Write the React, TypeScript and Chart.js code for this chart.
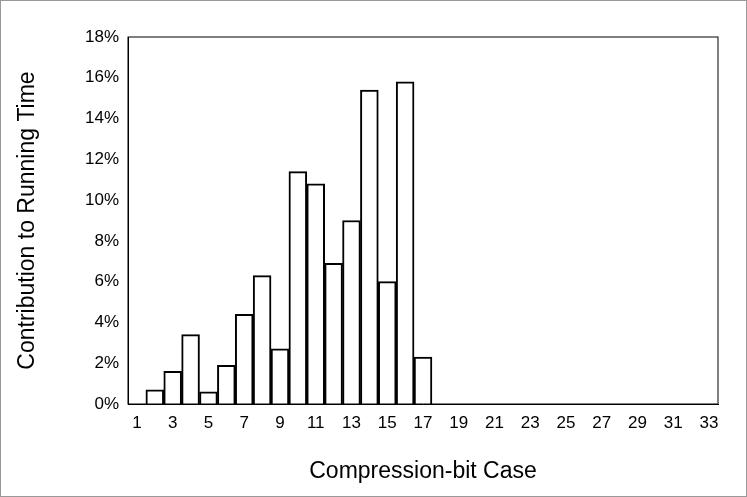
import React, { useEffect, useRef } from "react";
import { Chart, registerables } from "chart.js";
Chart.register(...registerables);

const categories = Array.from({ length: 33 }, (_, i) => String(i + 1));
const values = [0, 0.7, 1.6, 3.4, 0.6, 1.9, 4.4, 6.3, 2.7, 11.4, 10.8, 6.9, 9.0, 15.4, 6.0, 15.8, 2.3,
  0, 0, 0, 0, 0, 0, 0, 0, 0, 0, 0, 0, 0, 0, 0, 0];

export default function App() {
  const ref = useRef<HTMLCanvasElement>(null);
  useEffect(() => {
    const frame = {
      id: "frame",
      afterDraw(c: any) {
        const { ctx, chartArea: a } = c;
        ctx.save();
        ctx.strokeStyle = "#000";
        ctx.lineWidth = 1;
        ctx.strokeRect(a.left, a.top, a.right - a.left, a.bottom - a.top);
        ctx.strokeStyle = "#999";
        ctx.strokeRect(0.5, 0.5, c.width - 1, c.height - 1);
        ctx.restore();
      },
    };
    const font = { family: "Liberation Sans, Arial, sans-serif" };
    const chart = new Chart(ref.current!, {
      type: "bar",
      data: {
        labels: categories,
        datasets: [{
          data: values, backgroundColor: "#fff", borderColor: "#000", borderWidth: 2,
          barPercentage: 1, categoryPercentage: 1,
        }],
      },
      options: {
        animation: false, responsive: false,
        layout: { padding: { top: 37, right: 29, left: 10, bottom: 8 } },
        plugins: { legend: { display: false }, tooltip: { enabled: false } },
        scales: {
          x: {
            afterFit: (s: any) => { s.height = 85; },
            grid: { display: false, offset: true, drawTicks: true, tickLength: 6, color: "#000" },
            border: { color: "#000" },
            ticks: {
              autoSkip: false, maxRotation: 0, color: "#000", font: { ...font, size: 17 },
              callback: (_v: any, i: number) => (i % 2 === 0 ? categories[i] : ""),
            },
            title: { display: true, text: "Compression-bit Case", color: "#000", font: { ...font, size: 23 }, padding: { top: 8 } },
          },
          y: {
            afterFit: (s: any) => { s.width = 118; },
            min: 0, max: 18,
            grid: { display: false, drawTicks: true, tickLength: 6, color: "#000" },
            border: { color: "#000" },
            ticks: { stepSize: 2, color: "#000", font: { ...font, size: 17 }, callback: (v: any) => v + "%" },
            title: { display: true, text: "Contribution to Running Time", color: "#000", font: { ...font, size: 23 } },
          },
        },
      },
      plugins: [frame],
    });
    return () => chart.destroy();
  }, []);
  return (
    <div style={{ position: "absolute", left: 0, top: 0 }}>
      <canvas ref={ref} width={747} height={497} />
    </div>
  );
}
